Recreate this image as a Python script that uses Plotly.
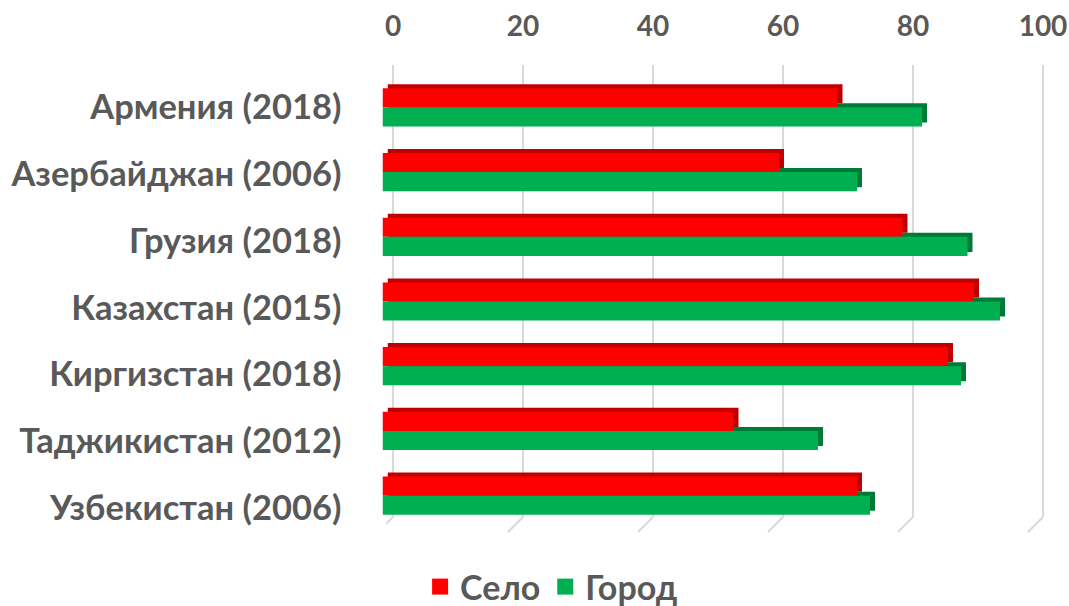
import plotly.graph_objects as go

countries = ["Армения (2018)", "Азербайджан (2006)", "Грузия (2018)", "Казахстан (2015)",
             "Киргизстан (2018)", "Таджикистан (2012)", "Узбекистан (2006)"]
selo = [70, 61, 80, 91, 87, 54, 73]
gorod = [83, 73, 90, 95, 89, 67, 75]
tick_vals = [0, 20, 40, 60, 80, 100]
series_names = ["Село", "Город"]
front_colors = ["#FF0000", "#00B050"]
depth_colors = ["#C00000", "#007A37"]

W, H = 1069, 606
FONT = "Lato"
GREY = "#595959"

def px_x(a, b):
    return [a / W, b / W]

def px_y(top, bottom):
    return [1 - bottom / H, 1 - top / H]

fig = go.Figure()

# grid subplot (back wall)
fig.add_trace(go.Scatter(x=[0, 100], y=[0, 1], mode="markers", marker=dict(opacity=0),
                         showlegend=False, hoverinfo="skip", xaxis="x", yaxis="y"))

# depth (extrusion) bars
for name, vals, col in zip(series_names, [selo, gorod], depth_colors):
    fig.add_trace(go.Bar(y=countries, x=vals, orientation="h", marker=dict(color=col, line=dict(width=0)),
                         showlegend=False, hoverinfo="skip", xaxis="x2", yaxis="y2"))
# front bars
for name, vals, col in zip(series_names, [selo, gorod], front_colors):
    fig.add_trace(go.Bar(y=countries, x=vals, orientation="h", name=name,
                         marker=dict(color=col, line=dict(width=0)), showlegend=False,
                         xaxis="x3", yaxis="y3"))
# invisible carrier for the category labels (floor-projected, slightly lower)
fig.add_trace(go.Scatter(y=countries, x=selo, mode="markers", marker=dict(opacity=0),
                         showlegend=False, hoverinfo="skip", xaxis="x3", yaxis="y4"))
# legend entries
for name, col in zip(series_names, front_colors):
    fig.add_trace(go.Scatter(x=[None], y=[None], mode="markers", name=name,
                             marker=dict(symbol="square", size=20, color=col),
                             xaxis="x3", yaxis="y3"))

unit = 6.5
fig.update_layout(
    template="none",
    width=W, height=H,
    margin=dict(l=0, r=0, t=0, b=0, autoexpand=False),
    paper_bgcolor="white", plot_bgcolor="rgba(0,0,0,0)",
    barmode="group", bargap=0.41, bargroupgap=0,
    font=dict(family=FONT, color=GREY),
    xaxis=dict(domain=px_x(393 - unit, 1043 + unit), range=[-1, 101], side="top",
               tickvals=tick_vals, showgrid=True, gridcolor="#D9D9D9", gridwidth=2,
               zeroline=False, showline=False, ticks="", ticklabelstandoff=22,
               ticklabeloverflow="allow", automargin=False,
               tickfont=dict(size=28, family=FONT, color=GREY, weight="bold"),
               anchor="y", fixedrange=True),
    yaxis=dict(domain=px_y(65, 517), range=[0, 1], visible=False, anchor="x",
               fixedrange=True, automargin=False),
    xaxis2=dict(domain=px_x(387.5, 1037.5), range=[0, 100], visible=False, anchor="y2",
                automargin=False),
    yaxis2=dict(domain=px_y(71, 524), autorange="reversed", visible=False, anchor="x2",
                type="category", automargin=False),
    xaxis3=dict(domain=px_x(382.5, 1032.5), range=[0, 100], visible=False, anchor="y3",
                automargin=False),
    yaxis3=dict(domain=px_y(75, 528), autorange="reversed", visible=False, anchor="x3",
                type="category", automargin=False),
    yaxis4=dict(domain=px_y(81, 534), autorange="reversed", anchor="x3", type="category",
                showgrid=False, showline=False, zeroline=False, ticks="",
                ticklabelstandoff=40, automargin=False, ticklabeloverflow="allow",
                tickfont=dict(size=34.5, family=FONT, color=GREY, weight="bold")),
    legend=dict(orientation="h", x=0.516, xanchor="center", y=1 - 587 / H, yanchor="middle",
                font=dict(size=34, family=FONT, color=GREY, weight="bold"),
                bgcolor="rgba(0,0,0,0)",
                itemsizing="trace", traceorder="normal", itemwidth=30),
)

# slanted floor feet of gridlines
for v in tick_vals:
    fig.add_shape(type="line", xref="x", yref="paper", xsizemode="pixel", xanchor=v,
                  x0=0, x1=-15, y0=1 - 517 / H, y1=1 - 532 / H,
                  line=dict(color="#D9D9D9", width=2), layer="below")

fig.write_html("out.html", config={"displayModeBar": False},
               post_script="document.body.style.margin='0';document.body.style.overflow='hidden';")
